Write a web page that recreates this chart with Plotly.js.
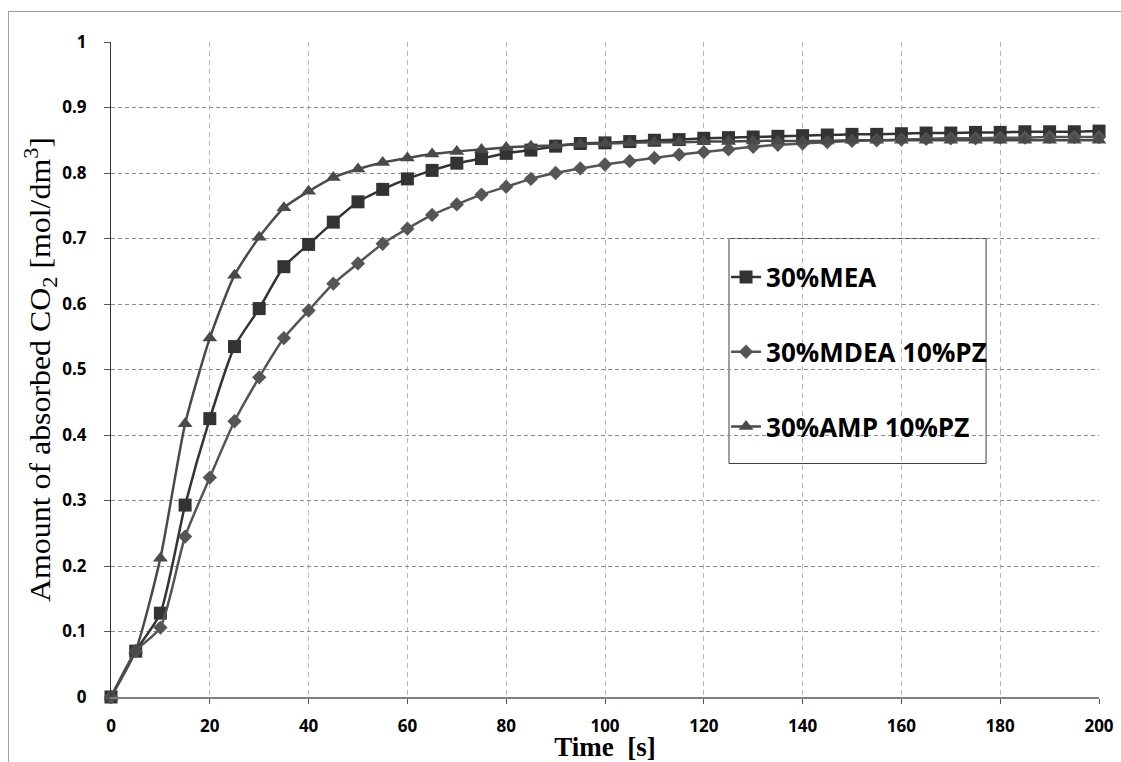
<!DOCTYPE html>
<html>
<head>
<meta charset="utf-8">
<script src="https://cdn.plot.ly/plotly-3.0.1.min.js"></script>
<style>
html,body{margin:0;padding:0;background:#fff;}
#wrap{position:relative;width:1121px;height:762px;}
#frame{position:absolute;left:8px;top:11px;right:0;bottom:0;border-left:1px solid #a0a0a0;border-top:1px solid #a0a0a0;pointer-events:none;}
#chart{position:absolute;left:0;top:0;width:1121px;height:762px;}
</style>
</head>
<body>
<div id="wrap"><div id="chart"></div><div id="frame"></div></div>
<script>
const time = [0,5,10,15,20,25,30,35,40,45,50,55,60,65,70,75,80,85,90,95,100,105,110,115,120,125,130,135,140,145,150,155,160,165,170,175,180,185,190,195,200];
const mea = [0,0.070,0.128,0.293,0.425,0.535,0.593,0.657,0.691,0.725,0.756,0.775,0.791,0.804,0.815,0.822,0.830,0.835,0.841,0.845,0.846,0.848,0.850,0.851,0.853,0.854,0.855,0.856,0.857,0.858,0.859,0.859,0.860,0.861,0.861,0.862,0.862,0.863,0.863,0.863,0.864];
const mdea = [0,0.070,0.106,0.245,0.335,0.421,0.488,0.548,0.590,0.631,0.662,0.692,0.715,0.736,0.752,0.767,0.779,0.791,0.800,0.807,0.813,0.818,0.823,0.828,0.832,0.836,0.840,0.843,0.845,0.847,0.849,0.850,0.851,0.852,0.853,0.853,0.854,0.854,0.855,0.855,0.855];
const amp = [0,0.071,0.212,0.417,0.548,0.644,0.702,0.747,0.772,0.793,0.806,0.816,0.823,0.829,0.833,0.836,0.839,0.841,0.842,0.844,0.845,0.846,0.847,0.847,0.848,0.848,0.849,0.849,0.849,0.849,0.850,0.850,0.850,0.850,0.850,0.850,0.850,0.850,0.850,0.850,0.850];
const names = ['30%MEA','30%MDEA 10%PZ','30%AMP 10%PZ'];
const xTicks = [0,20,40,60,80,100,120,140,160,180,200];
const yTicks = [0,0.1,0.2,0.3,0.4,0.5,0.6,0.7,0.8,0.9,1];

function tr(y, name, color, symbol, size, grp){
  return {x: time, y: y, name: name, type:'scatter', mode:'lines+markers',
    legendgroup: grp, cliponaxis:false,
    line:{color:color, width:2.5, shape:'spline', smoothing:0.6},
    marker:{symbol:symbol, size:size, color:color}};
}
const data = [
  tr(mea, names[0], '#333333', 'square', 13, 'a'),
  tr(mdea, names[1], '#555555', 'diamond', 11, 'b'),
  tr(amp, names[2], '#4a4a4a', 'triangle-up', 13, 'c')
];
const tickFont = {family:'Open Sans, sans-serif', size:17, color:'#000', weight:'bold'};
const layout = {
  width:1121, height:762,
  margin:{l:111, r:22, t:42, b:65},
  paper_bgcolor:'rgba(0,0,0,0)', plot_bgcolor:'#fff',
  showlegend:true,
  legend:{x:0.6225, y:0.677, xanchor:'left', yanchor:'top', traceorder:'grouped', tracegroupgap:38,
    font:{family:'Open Sans, sans-serif', size:26, color:'#000', weight:'bold'},
    bgcolor:'rgba(0,0,0,0)', borderwidth:0, itemwidth:30},
  shapes:[{type:'rect', xref:'paper', yref:'paper', x0:0.6255, x1:0.8857, y0:0.3565, y1:0.7, line:{color:'#404040', width:1}, fillcolor:'rgba(0,0,0,0)', layer:'below'}],
  xaxis:{range:[0,200], tickvals:xTicks, ticktext:xTicks.map(String), showgrid:true, gridcolor:'#b8b8b8', griddash:'5px,4px', gridwidth:1,
    showline:true, linecolor:'#808080', linewidth:1.5, ticks:'outside', ticklen:5, tickcolor:'#555', zeroline:false,
    ticklabelstandoff:8, tickfont:tickFont,
    title:{text:'Time  [s]', standoff:12, font:{family:'Liberation Serif, serif', size:27, color:'#000', weight:'bold'}}},
  yaxis:{range:[0,1], tickvals:yTicks, ticktext:yTicks.map(String), showgrid:true, gridcolor:'#8c8c8c', griddash:'4px,3px', gridwidth:1,
    showline:true, linecolor:'#333', linewidth:1, ticks:'outside', ticklen:6, tickcolor:'#555', zeroline:false,
    ticklabelstandoff:14, tickfont:tickFont,
    title:{text:'Amount of absorbed CO<sub>2</sub> [mol/dm<sup>3</sup>]', standoff:2, font:{family:'Liberation Serif, serif', size:30, color:'#000'}}}
};
Plotly.newPlot('chart', data, layout, {displayModeBar:false, staticPlot:true}).then(function(){
  const yt = document.querySelector('.ytitle');
  if (yt) { yt.setAttribute('textLength', '465'); yt.setAttribute('lengthAdjust', 'spacingAndGlyphs'); }
});
</script>
</body>
</html>
